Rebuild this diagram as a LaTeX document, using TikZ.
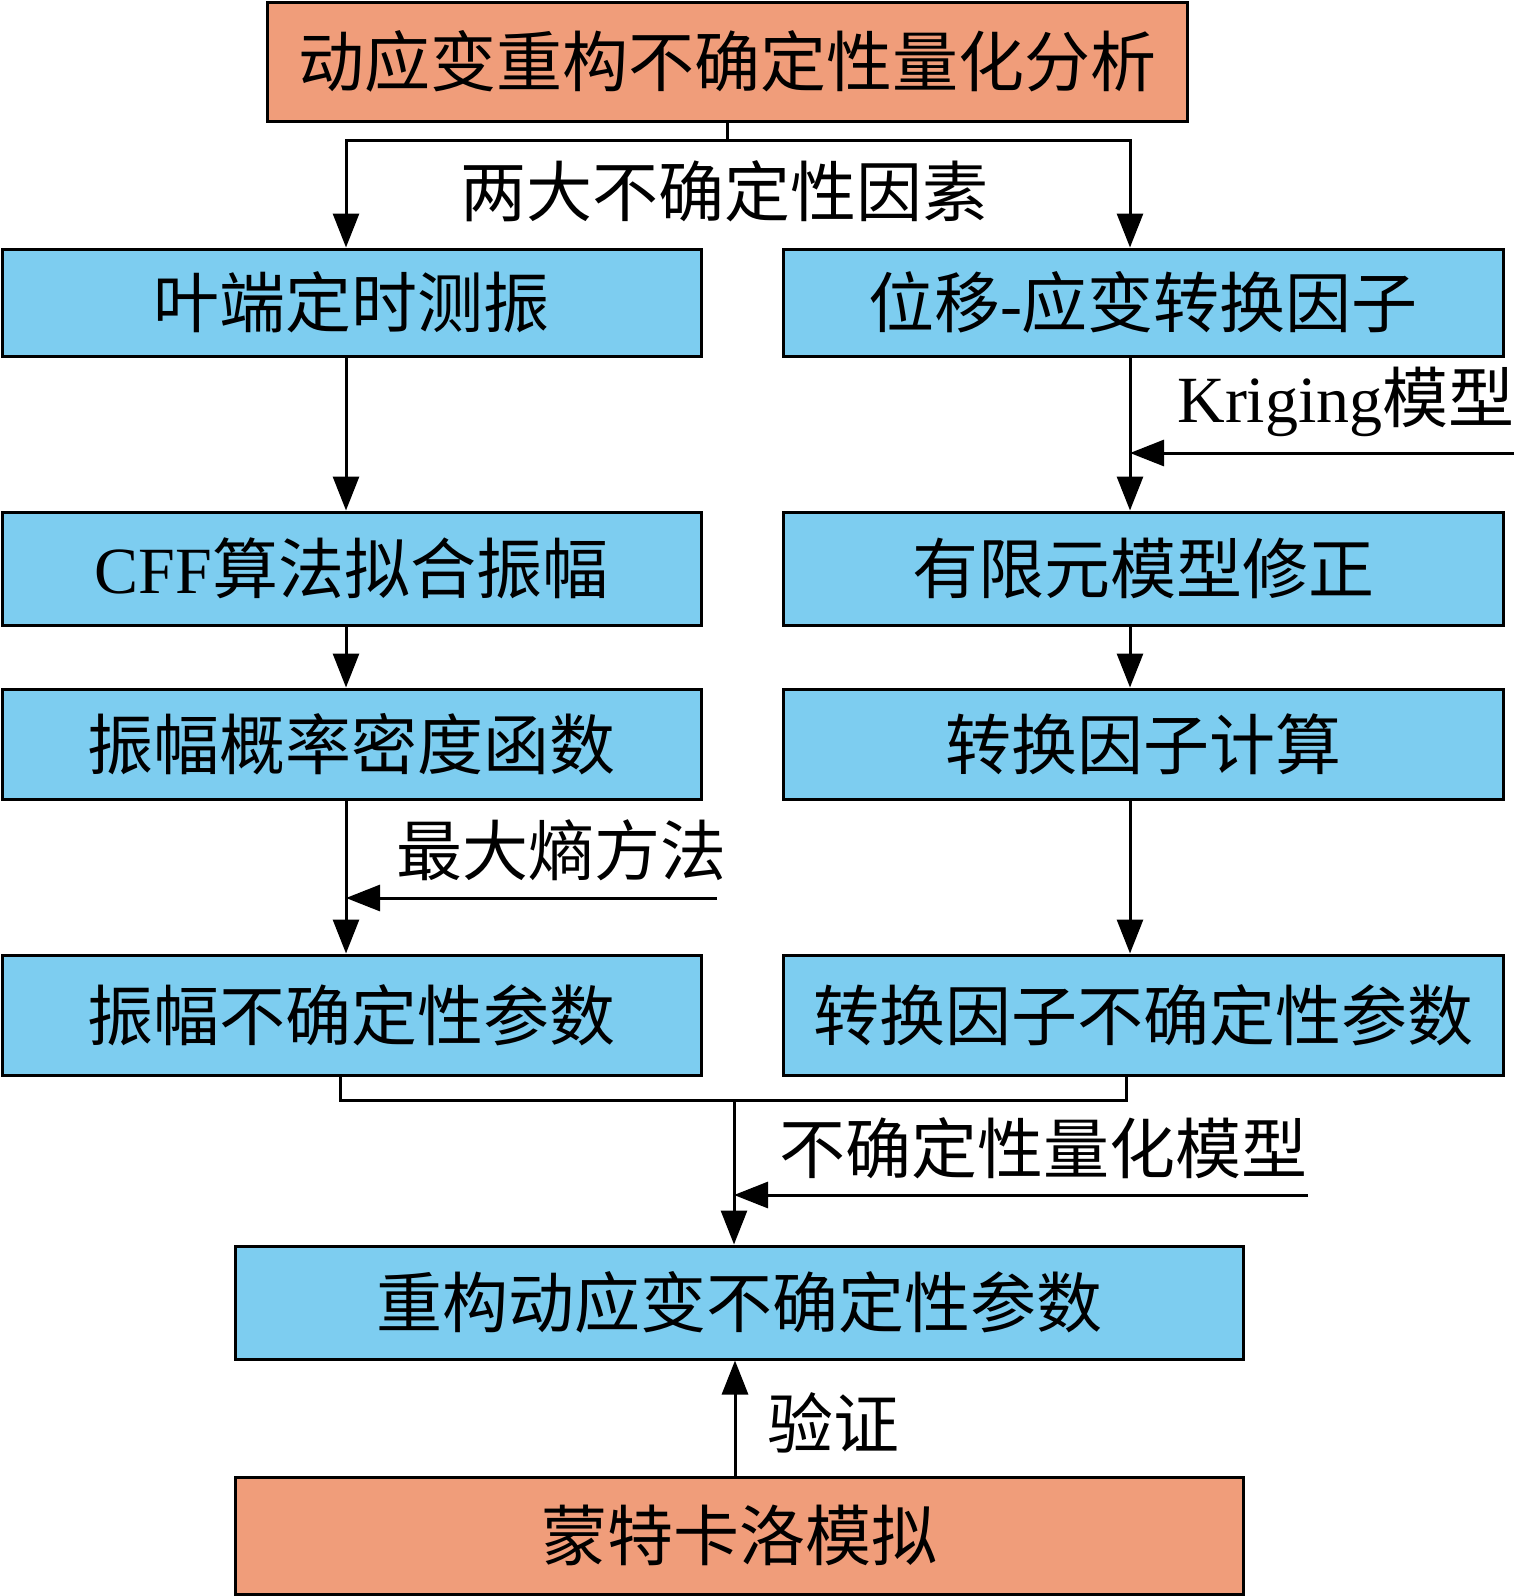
\documentclass[tikz,border=0pt]{standalone}
\usepackage{fontspec}
\setmainfont{Liberation Serif}
\newfontfamily\cjk{Noto Sans CJK SC}
\usetikzlibrary{arrows.meta}
\definecolor{boxblue}{RGB}{125,205,240}
\definecolor{boxorange}{RGB}{240,157,122}

\begin{document}
\begin{tikzpicture}[x=0.5pt,y=-0.5pt,line width=1.5pt,
		box/.style={draw, fill=boxblue, inner sep=0pt, font=\fontsize{33}{36}\selectfont\cjk},
		obox/.style={box, fill=boxorange},
		lcol/.style={minimum width=349.5pt},
		rcol/.style={minimum width=360pt},
		lbl/.style={inner sep=0pt, font=\fontsize{33}{36}\selectfont\cjk},
		arr/.style={-{Triangle[width=13pt,length=17pt]}}]
		\useasboundingbox (0,0) rectangle (1516,1596);
		
		% boxes
		\node[obox, minimum width=460pt, minimum height=59.5pt] (top) at (727,61.5) {动应变重构不确定性量化分析};
		\node[box, lcol, minimum height=53.5pt] (l1) at (351.5,302.5) {叶端定时测振};
		\node[box, rcol, minimum height=53.5pt] (r1) at (1143,302.5) {位移{\rmfamily -}应变转换因子};
		\node[box, lcol, minimum height=56.5pt] (l2) at (351.5,568.5) {{\rmfamily CFF}算法拟合振幅};
		\node[box, rcol, minimum height=56.5pt] (r2) at (1143,568.5) {有限元模型修正};
		\node[box, lcol, minimum height=55pt] (l3) at (351.5,744) {振幅概率密度函数};
		\node[box, rcol, minimum height=55pt] (r3) at (1143,744) {转换因子计算};
		\node[box, lcol, minimum height=60pt] (l4) at (351.5,1015) {振幅不确定性参数};
		\node[box, rcol, minimum height=60pt] (r4) at (1143,1015) {转换因子不确定性参数};
		\node[box, minimum width=504pt, minimum height=56.5pt] (res) at (739,1302.5) {重构动应变不确定性参数};
		\node[obox, minimum width=504pt, minimum height=58.5pt] (mc) at (739,1535.5) {蒙特卡洛模拟};
		
		% labels
		\node[lbl] (tlab) at (724,191) {两大不确定性因素};
		\node[lbl] (klab) at (1346,402) {{\rmfamily Kriging}模型};
		\node[lbl] (elab) at (561,850) {最大熵方法};
		\node[lbl] (qlab) at (1043,1148) {不确定性量化模型};
		\node[lbl] (vlab) at (833,1423) {验证};
		
		\coordinate (lx) at (346,0);
		\coordinate (rx) at (1130,0);
		\coordinate (tsplit) at (727,140);
		\coordinate (kin) at (1514,453);
		\coordinate (ein) at (717,898);
		\coordinate (mlx) at (340,0);
		\coordinate (mrx) at (1126,0);
		\coordinate (mj) at (734,1100);
		\coordinate (qin) at (1308,1195);
		\coordinate (vx) at (735,0);
		
		% connectors
		\draw (top.south) -- (tsplit);
		\draw[arr] (tsplit) -| (l1.north -| lx);
		\draw[arr] (tsplit) -| (r1.north -| rx);
		\draw[arr] (l1.south -| lx) -- (l2.north -| lx);
		\draw[arr] (r1.south -| rx) -- (r2.north -| rx);
		\draw[arr] (kin) -- (kin -| rx);
		\draw[arr] (l2.south -| lx) -- (l3.north -| lx);
		\draw[arr] (r2.south -| rx) -- (r3.north -| rx);
		\draw[arr] (l3.south -| lx) -- (l4.north -| lx);
		\draw[arr] (r3.south -| rx) -- (r4.north -| rx);
		\draw[arr] (ein) -- (ein -| lx);
		\draw (l4.south -| mlx) |- (mj) -| (r4.south -| mrx);
		\draw[arr] (mj) -- (res.north -| mj);
		\draw[arr] (qin) -- (qin -| mj);
		\draw[arr] (mc.north -| vx) -- (res.south -| vx);
\end{tikzpicture}
\end{document}
